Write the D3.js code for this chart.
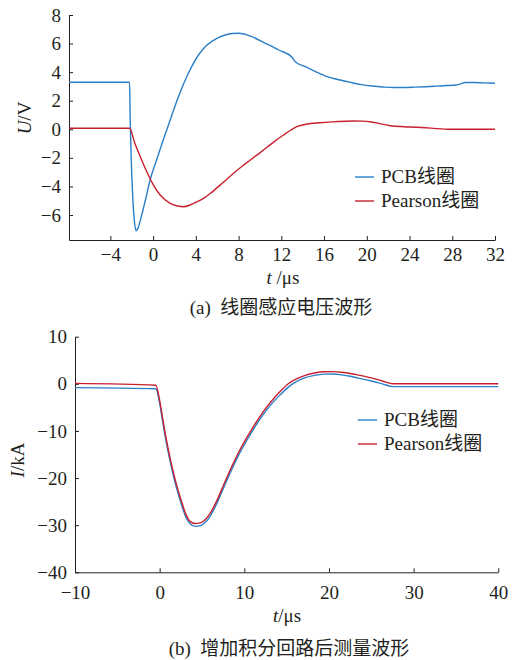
<!DOCTYPE html>
<html>
<head>
<meta charset="utf-8">
<script src="https://cdn.jsdelivr.net/npm/d3@7"></script>
<style>
body { margin: 0; background: #fff; }
.axis path, .axis line { stroke: #231f20; }
</style>
</head>
<body>
<div id="chart"></div>
<script>
// (a) induced coil voltage
var tA = [-7.87, -2.2, -2.15, -2.05, -1.9, -1.75, -1.6, -1.4, -1.1, -0.7, -0.3, 0.3, 0.9, 1.6, 2.37, 3.3, 4.25, 4.9, 5.5, 6.1, 6.75, 7.4, 8.0, 8.6, 9.25, 10.5, 11.75, 13.0, 13.3, 14.25, 15.3, 16.3, 17.5, 18.5, 19.5, 20.5, 21.5, 22.5, 23.5, 24.5, 25.5, 26.5, 27.5, 28.3, 28.8, 29.2, 30, 31, 32];
var pcbA = [3.29, 3.29, 1.0, -2.0, -4.8, -6.4, -7.1, -6.9, -6.1, -4.9, -3.6, -2.2, -0.85, 0.65, 2.28, 3.92, 5.2, 5.8, 6.15, 6.42, 6.6, 6.7, 6.72, 6.65, 6.48, 6.02, 5.55, 5.04, 4.73, 4.38, 4.0, 3.68, 3.45, 3.28, 3.13, 3.03, 2.96, 2.92, 2.92, 2.95, 2.98, 3.02, 3.06, 3.1, 3.18, 3.28, 3.28, 3.25, 3.22];
var tA2 = [-7.87, -2.2, -1.7, -1.2, -0.6, 0, 0.66, 1.6, 2.3, 2.84, 3.47, 4.1, 4.72, 5.35, 5.97, 6.75, 7.53, 8.3, 9.1, 9.9, 10.66, 11.4, 12.2, 12.9, 13.45, 14.4, 15.6, 16.8, 18, 18.8, 19.6, 20.3, 21.2, 22.2, 23.5, 24.7, 26, 27.8, 30, 32];
var pearsonA = [0.07, 0.07, -1.0, -1.92, -2.95, -3.85, -4.6, -5.18, -5.37, -5.42, -5.3, -5.08, -4.83, -4.5, -4.1, -3.6, -3.08, -2.6, -2.15, -1.7, -1.26, -0.83, -0.4, -0.05, 0.18, 0.37, 0.46, 0.52, 0.56, 0.58, 0.57, 0.53, 0.4, 0.25, 0.18, 0.14, 0.08, 0.0, 0.0, 0.0];
var xTicksA = [-4, 0, 4, 8, 12, 16, 20, 24, 28, 32];
var yTicksA = [-6, -4, -2, 0, 2, 4, 6, 8];

// (b) after integrator
var tB = [-10, -0.45, 0, 0.4, 0.8, 1.3, 1.9, 2.5, 3.1, 3.6, 4.2, 4.8, 5.4, 6.0, 6.7, 7.5, 8.3, 9.2, 10.2, 11.2, 12.2, 13.2, 14.2, 15.2, 16.2, 17.2, 18.3, 19.4, 20.5, 21.5, 22.5, 23.5, 25, 26.3, 27.6, 30, 35, 40];
var pcbB = [-0.8, -1.05, -4.2, -8.5, -12.6, -17, -21.5, -25.2, -28.3, -29.7, -30.25, -30.1, -29.4, -28, -25.6, -22.3, -19.0, -15.6, -12.3, -9.3, -6.6, -4.3, -2.4, -0.7, 0.5, 1.3, 1.8, 2.05, 2.1, 1.9, 1.6, 1.2, 0.6, 0.0, -0.6, -0.6, -0.6, -0.6];
var pearsonB = [0.1, -0.3, -3.5, -7.8, -11.9, -16.3, -20.8, -24.5, -27.7, -29.2, -29.65, -29.5, -28.8, -27.4, -25.0, -21.7, -18.4, -15.0, -11.7, -8.7, -6.0, -3.7, -1.7, 0.0, 1.1, 1.8, 2.3, 2.55, 2.58, 2.45, 2.2, 1.85, 1.25, 0.6, 0.0, 0.0, 0.0, 0.0];
var xTicksB = [-10, 0, 10, 20, 30, 40];
var yTicksB = [-40, -30, -20, -10, 0, 10];

var seriesNames = ["PCB线圈", "Pearson线圈"];
var colors = ["#2a7fc8", "#c8202e"];
var FONT = "'Liberation Serif', 'DejaVu Serif', 'Noto Sans CJK SC', serif";

var svg = d3.select("#chart").append("svg")
    .attr("width", 512)
    .attr("height", 660)
    .style("font-family", FONT);

function fmt(d) { return d < 0 ? "\u2212" + Math.abs(d) : String(d); }

function styleText(sel) {
    sel.style("font-family", FONT).style("font-size", "19px").attr("fill", "#231f20");
}

function drawPanel(cfg) {
    var x = d3.scaleLinear().domain(cfg.xDomain).range([cfg.left, cfg.right]);
    var y = d3.scaleLinear().domain(cfg.yDomain).range([cfg.bottom, cfg.top]);

    svg.append("g")
        .attr("class", "axis")
        .attr("transform", "translate(0," + cfg.bottom + ")")
        .call(d3.axisBottom(x).tickValues(cfg.xTicks).tickFormat(fmt)
            .tickSizeInner(-4).tickSizeOuter(0).tickPadding(cfg.xPad))
        .call(function(g) { g.attr("font-family", null); styleText(g.selectAll("text")); });

    svg.append("g")
        .attr("class", "axis")
        .attr("transform", "translate(" + cfg.left + ",0)")
        .call(d3.axisLeft(y).tickValues(cfg.yTicks).tickFormat(fmt)
            .tickSizeInner(-4).tickSizeOuter(0).tickPadding(8))
        .call(function(g) { g.attr("font-family", null); styleText(g.selectAll("text")); });

    var line = d3.line()
        .x(function(d) { return x(d[0]); })
        .y(function(d) { return y(d[1]); })
        .curve(d3.curveMonotoneX);

    cfg.series.forEach(function(s, i) {
        svg.append("path")
            .attr("d", line(d3.zip(s.t, s.v)))
            .attr("fill", "none")
            .attr("stroke", colors[i])
            .attr("stroke-width", 1.4);
    });

    // legend
    seriesNames.forEach(function(name, i) {
        var ly = cfg.legendY + i * 24;
        svg.append("line")
            .attr("x1", cfg.legendX).attr("x2", cfg.legendX + 19)
            .attr("y1", ly).attr("y2", ly)
            .attr("stroke", colors[i]).attr("stroke-width", 1.4);
        svg.append("text")
            .attr("x", cfg.legendX + 26).attr("y", ly + 6)
            .call(styleText)
            .text(name);
    });

    // axis titles
    var yl = svg.append("text")
        .attr("transform", "translate(" + cfg.yLabelX + "," + cfg.yLabelY + ") rotate(-90)")
        .attr("text-anchor", "middle")
        .call(styleText);
    yl.append("tspan").style("font-style", "italic").text(cfg.yVar);
    yl.append("tspan").text(cfg.yUnit);

    var xl = svg.append("text")
        .attr("x", cfg.xLabelX).attr("y", cfg.xLabelY)
        .attr("text-anchor", "middle")
        .call(styleText);
    xl.append("tspan").style("font-style", "italic").text("t");
    xl.append("tspan").text(cfg.xUnit);

    svg.append("text")
        .attr("x", cfg.capX).attr("y", cfg.capY)
        .attr("text-anchor", "middle")
        .style("white-space", "pre")
        .call(styleText)
        .text(cfg.caption);
}

drawPanel({
    xDomain: [-7.87, 32], yDomain: [-7.75, 8],
    left: 69, right: 495, top: 15, bottom: 240,
    xTicks: xTicksA, yTicks: yTicksA, xPad: 8,
    series: [{t: tA, v: pcbA}, {t: tA2, v: pearsonA}],
    legendX: 355, legendY: 177,
    yVar: "U", yUnit: "/V", yLabelX: 31, yLabelY: 118,
    xUnit: " /\u03bcs", xLabelX: 283, xLabelY: 284,
    caption: "(a)  线圈感应电压波形", capX: 281, capY: 314
});

drawPanel({
    xDomain: [-10, 40], yDomain: [-40, 10],
    left: 75, right: 498.3, top: 336.7, bottom: 572.3,
    xTicks: xTicksB, yTicks: yTicksB, xPad: 13,
    series: [{t: tB, v: pcbB}, {t: tB, v: pearsonB}],
    legendX: 358, legendY: 420,
    yVar: "I", yUnit: "/kA", yLabelX: 24, yLabelY: 460,
    xUnit: "/\u03bcs", xLabelX: 287, xLabelY: 622,
    caption: "(b)  增加积分回路后测量波形", capX: 289, capY: 655
});
</script>
</body>
</html>
